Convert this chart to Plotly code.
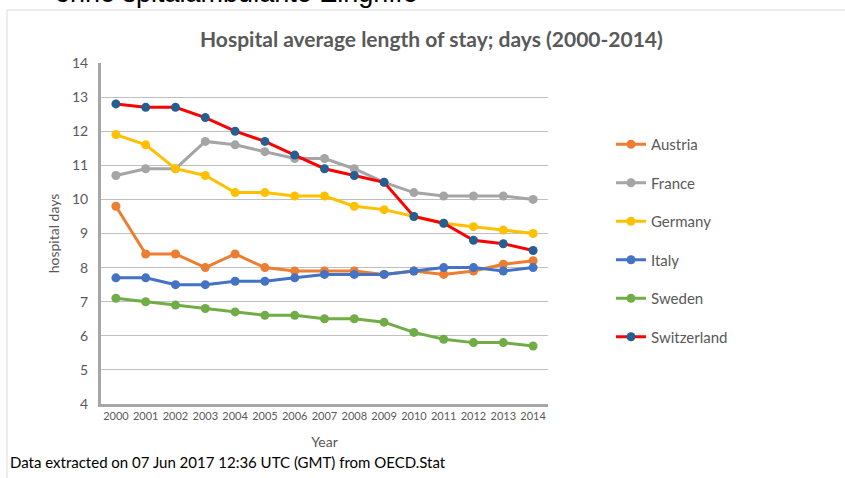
import plotly.graph_objects as go

years = [str(y) for y in range(2000, 2015)]
austria = [9.8, 8.4, 8.4, 8.0, 8.4, 8.0, 7.9, 7.9, 7.9, 7.8, 7.9, 7.8, 7.9, 8.1, 8.2]
france = [10.7, 10.9, 10.9, 11.7, 11.6, 11.4, 11.2, 11.2, 10.9, 10.5, 10.2, 10.1, 10.1, 10.1, 10.0]
germany = [11.9, 11.6, 10.9, 10.7, 10.2, 10.2, 10.1, 10.1, 9.8, 9.7, 9.5, 9.3, 9.2, 9.1, 9.0]
italy = [7.7, 7.7, 7.5, 7.5, 7.6, 7.6, 7.7, 7.8, 7.8, 7.8, 7.9, 8.0, 8.0, 7.9, 8.0]
sweden = [7.1, 7.0, 6.9, 6.8, 6.7, 6.6, 6.6, 6.5, 6.5, 6.4, 6.1, 5.9, 5.8, 5.8, 5.7]
switzerland = [12.8, 12.7, 12.7, 12.4, 12.0, 11.7, 11.3, 10.9, 10.7, 10.5, 9.5, 9.3, 8.8, 8.7, 8.5]

series = [
    ("Austria", austria, "#ED7D31", "#ED7D31"),
    ("France", france, "#A5A5A5", "#A5A5A5"),
    ("Germany", germany, "#FFC000", "#FFC000"),
    ("Italy", italy, "#4472C4", "#4472C4"),
    ("Sweden", sweden, "#70AD47", "#70AD47"),
    ("Switzerland", switzerland, "#FF0000", "#255E91"),
]

W, H = 845, 478
L, R, T, B = 101, 297, 63, 74
pw, ph = W - L - R, H - T - B

def px_x(x):
    return (x - L) / pw

def px_y(y):
    return (H - B - y) / ph

fig = go.Figure()
for name, vals, lc, mc in series:
    fig.add_trace(go.Scatter(
        x=years, y=vals, name=name, mode="lines+markers",
        legendgroup=name,
        line=dict(color=lc, width=3),
        marker=dict(color=mc, size=9, line=dict(width=0)),
    ))

font_family = "Lato, 'Liberation Sans', sans-serif"
gray = "#595959"

fig.update_layout(
    width=W, height=H,
    margin=dict(l=L, r=R, t=T, b=B),
    paper_bgcolor="white", plot_bgcolor="white",
    font=dict(family=font_family, color=gray),
    showlegend=True,
    legend=dict(
        x=px_x(611), xanchor="left",
        y=px_y(128), yanchor="top",
        font=dict(size=15, color=gray, family=font_family),
        tracegroupgap=16,
        itemwidth=30,
        bgcolor="rgba(0,0,0,0)",
    ),
    xaxis=dict(
        type="category", range=[-0.5, 14.5],
        showline=True, linecolor="#A6A6A6", linewidth=3,
        showgrid=False, ticks="",
        tickfont=dict(size=11, color=gray),
        title=dict(text="Year", font=dict(size=14, color=gray), standoff=16),
        zeroline=False,
    ),
    yaxis=dict(
        range=[4, 14], dtick=1,
        showline=True, linecolor="#A6A6A6", linewidth=3,
        showgrid=True, gridcolor="#BFBFBF", gridwidth=1.3,
        ticks="", tickfont=dict(size=14, color=gray),
        ticklabelstandoff=7,
        title=dict(text="hospital days", font=dict(size=14, color=gray), standoff=10),
        zeroline=False,
    ),
    shapes=[dict(
        type="rect", xref="paper", yref="paper",
        x0=px_x(7), x1=px_x(850), y0=px_y(490), y1=px_y(10),
        line=dict(color="#D9D9D9", width=1), fillcolor="rgba(0,0,0,0)",
        layer="below",
    )],
    annotations=[
        dict(text="<b>Hospital average length of stay; days (2000-2014)</b>",
             xref="paper", yref="paper", x=px_x(431), y=px_y(38),
             xanchor="center", yanchor="middle", showarrow=False,
             font=dict(size=21, color=gray, family=font_family)),
        dict(text="Data extracted on 07 Jun 2017 12:36 UTC (GMT) from OECD.Stat",
             xref="paper", yref="paper", x=px_x(8), y=px_y(462),
             xanchor="left", yanchor="middle", showarrow=False,
             font=dict(size=15, color="#000000", family=font_family)),
        dict(text="ohne spitalambulante Eingriffe",
             xref="paper", yref="paper", x=px_x(53), y=px_y(10),
             xanchor="left", yanchor="bottom", showarrow=False,
             font=dict(size=27, color="#000000", family="'Liberation Sans', Arial, sans-serif")),
    ],
)

fig.write_html("out.html", config={"displayModeBar": False},
               post_script="document.body.style.margin='0';")
